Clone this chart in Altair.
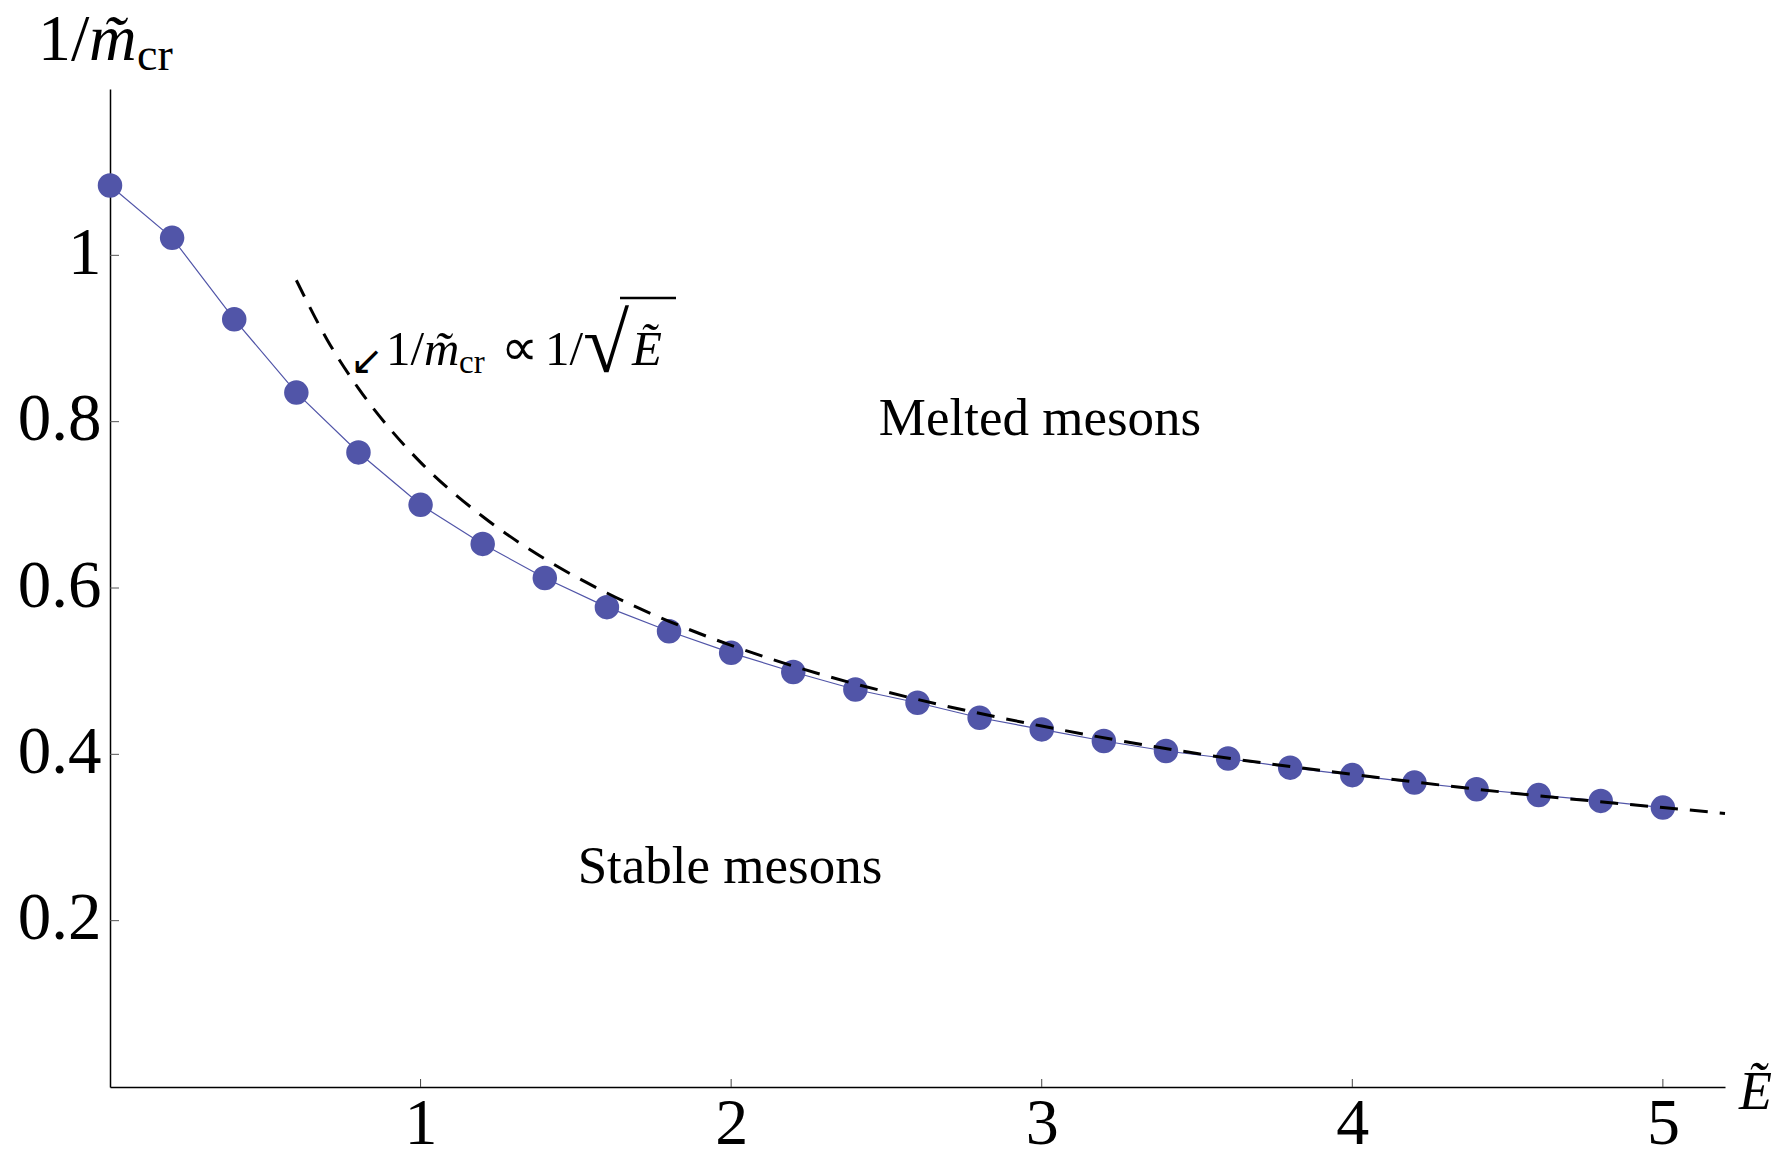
import altair as alt
import pandas as pd

# ---- data ----
E_points = [0.0, 0.2, 0.4, 0.6, 0.8, 1.0, 1.2, 1.4, 1.6, 1.8, 2.0, 2.2, 2.4,
            2.6, 2.8, 3.0, 3.2, 3.4, 3.6, 3.8, 4.0, 4.2, 4.4, 4.6, 4.8, 5.0]
inv_m = [1.084, 1.021, 0.923, 0.835, 0.763, 0.700, 0.653, 0.612, 0.577, 0.548,
         0.522, 0.499, 0.478, 0.462, 0.444, 0.430, 0.416, 0.404, 0.395, 0.384,
         0.375, 0.366, 0.358, 0.351, 0.344, 0.336]

asym_E = [0.6, 0.7, 0.8, 0.9, 1.0, 1.2, 1.4, 1.6, 1.8, 2.0, 2.3, 2.6, 3.0,
          3.5, 4.0, 4.5, 5.0, 5.2]
asym_val = [0.970, 0.898, 0.840, 0.792, 0.751, 0.686, 0.635, 0.594, 0.560,
            0.531, 0.495, 0.466, 0.434, 0.401, 0.376, 0.354, 0.336, 0.329]

x_ticks = [1, 2, 3, 4, 5]
y_ticks = [0.2, 0.4, 0.6, 0.8, 1.0]

W, H = 1615, 998
FONT = "Liberation Serif"
BLUE = "#5155A8"

pts = pd.DataFrame({"E": E_points, "m": inv_m})
asym = pd.DataFrame({"E": asym_E, "m": asym_val})
xt = pd.DataFrame({"E": x_ticks})
yt = pd.DataFrame({"m": y_ticks})
one = pd.DataFrame({"a": [0]})

xscale = alt.Scale(domain=[0, 5.2], nice=False, zero=False)
yscale = alt.Scale(domain=[0, 1.2], nice=False, zero=False)

xaxis = alt.Axis(values=x_ticks, format="d", ticks=False, grid=False, title=None,
                 labelFont=FONT, labelFontSize=66, labelColor="black",
                 labelPadding=4, labelFlush=False, labelOverlap=False,
                 domainColor="black", domainWidth=1.5)
yaxis = alt.Axis(values=y_ticks, format="~g", ticks=False, grid=False, title=None,
                 labelFont=FONT, labelFontSize=67, labelColor="black",
                 labelPadding=9, labelOffset=-2, labelFlush=False, labelOverlap=False,
                 domainColor="black", domainWidth=1.5)

line = alt.Chart(pts).mark_line(color=BLUE, strokeWidth=1.2).encode(
    x=alt.X("E:Q", scale=xscale, axis=xaxis),
    y=alt.Y("m:Q", scale=yscale, axis=yaxis),
)
dots = alt.Chart(pts).mark_circle(size=600, color=BLUE, opacity=1).encode(
    x=alt.X("E:Q", scale=xscale),
    y=alt.Y("m:Q", scale=yscale),
)
dashed = alt.Chart(asym).mark_line(color="black", strokeWidth=3,
                                   strokeDash=[18, 12], interpolate="monotone").encode(
    x=alt.X("E:Q", scale=xscale),
    y=alt.Y("m:Q", scale=yscale),
)

xtick_marks = alt.Chart(xt).mark_rule(color="#444444", strokeWidth=1).encode(
    x=alt.X("E:Q", scale=xscale),
    y=alt.value(H), y2=alt.value(H - 8),
)
ytick_marks = alt.Chart(yt).mark_rule(color="#555555", strokeWidth=1).encode(
    y=alt.Y("m:Q", scale=yscale),
    x=alt.value(0), x2=alt.value(9),
)


def txt(s, x, y, size, italic=False, align="left", baseline="alphabetic"):
    return alt.Chart(one).mark_text(
        text=s, font=FONT, fontSize=size, color="black",
        fontStyle="italic" if italic else "normal",
        align=align, baseline=baseline,
    ).encode(x=alt.value(x), y=alt.value(y))


labels = [
    txt("Melted mesons", 930, 346, 53, align="center"),
    txt("Stable mesons", 620, 794, 53, align="center"),
    # y-axis title 1/m~_cr
    txt("1/", -72, -29, 66),
    txt("m\u0303", -21, -29, 66, italic=True),
    txt("cr", 27, -19, 46),
    # x-axis title E~
    txt("\u1EBC", 1629, 1020, 54, italic=True),
    # annotation
    txt("\u2199", 257, 273, 40, align="center", baseline="middle"),
    txt("1/", 276, 276, 49),
    txt("m\u0303", 314, 276, 49, italic=True),
    txt("cr", 349, 284, 33),
    txt("\u221D", 391, 276, 52),
    txt("1/", 435, 276, 49),
    txt("\u221A", 473, 283, 84),
    txt("\u1EBC", 522, 276, 49, italic=True),
]

overbar = alt.Chart(one).mark_rule(color="black", strokeWidth=2.5).encode(
    x=alt.value(510), x2=alt.value(566), y=alt.value(209)
)

chart = alt.layer(line, dots, dashed, xtick_marks, ytick_marks, overbar, *labels).properties(
    width=W, height=H,
    padding={"left": 102, "top": 81, "right": 54, "bottom": 63},
    autosize=alt.AutoSizeParams(type="none"),
    background="white",
).configure_view(stroke=None)

chart.save("out.html", embed_options={"renderer": "svg", "actions": False})
